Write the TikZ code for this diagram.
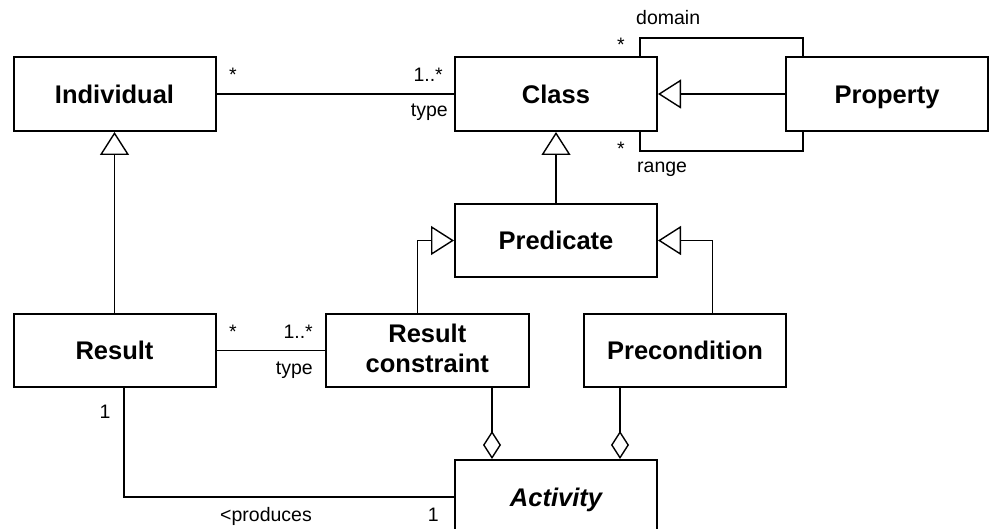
\documentclass[tikz,border=0pt]{standalone}
\usepackage{fontspec}
\setmainfont{Liberation Sans}
\usetikzlibrary{arrows.meta,calc}
\begin{document}
\begin{tikzpicture}[x=1pt,y=-1pt,
  box/.style={draw, line width=2pt, minimum width=202pt, minimum height=74pt,
    inner sep=0pt, align=center, font=\fontsize{25.5}{30}\selectfont\bfseries},
  cls/.style={box, text height=18.3pt, text depth=0pt},
  lbl/.style={inner sep=0pt, font=\fontsize{19.5}{22}\selectfont},
  link/.style={line width=1.4pt},
  gen/.style={link, -{Triangle[open, length=23pt, width=29pt]}},
  agg/.style={link, -{Diamond[open, length=28pt, width=18pt]}},
]
\useasboundingbox (0,0) rectangle (990,529);
\clip (0,0) rectangle (990,529);

% classes
\node[cls] (ind)  at (114.5,94)  {Individual};
\node[cls] (cls)  at (556,94)    {Class};
\node[cls] (prop) at (887,94)    {Property};
\node[cls, minimum height=73pt] (pred) at (556,240.5) {Predicate};
\node[cls, minimum height=73pt] (res)  at (114.5,350.5) {Result};
\node[box, minimum height=73pt, minimum width=203pt] (rc) at (427.3,350.5) {};
\node[font=\fontsize{25.5}{30}\selectfont\bfseries, align=center, inner sep=0pt]
  (rctext) at ([yshift=2pt]rc.center) {Result\\constraint};
\node[cls, minimum height=73pt] (pre)  at (685,350.5) {Precondition};
\node[cls, font=\fontsize{25.5}{30}\selectfont\bfseries\itshape] (act) at (556,497) {Activity};

% associations
\draw[link] (ind) -- (cls);
\draw[link] ([xshift=-18pt]cls.north east) -- ++(0,-18) -| ([xshift=18pt]prop.north west);
\draw[link] ([xshift=-18pt]cls.south east) -- ++(0,19) -| ([xshift=18pt]prop.south west);
\draw[link] (res) -- (rc);
\draw[link] ([xshift=9.5pt]res.south) |- (act.west);

% generalizations
\draw[gen] (prop) -- (cls);
\draw[gen] (res) -- (ind);
\draw[gen] (pred) -- (cls);
\draw[gen] ([xshift=-9.6pt]rc.north) |- (pred.west);
\draw[gen] ([xshift=27.6pt]pre.north) |- (pred.east);

% aggregations into Activity
\coordinate (aggL) at ([xshift=-64pt]act.north);
\coordinate (aggR) at ([xshift=64pt]act.north);
\draw[agg] (rc.south -| aggL) -- (aggL);
\draw[agg] (pre.south -| aggR) -- (aggR);

% role names and multiplicities
\node[lbl, anchor=base]      (m1) at (233,82)  {*};
\node[lbl, anchor=base east] (m2) at (443,82)  {1..*};
\node[lbl, anchor=base east] (r1) at (448,117) {type};
\node[lbl, anchor=base]      (m3) at (621,52)  {*};
\node[lbl, anchor=base west] (r2) at (636,25)  {domain};
\node[lbl, anchor=base]      (m4) at (621,156) {*};
\node[lbl, anchor=base west] (r3) at (637,173) {range};
\node[lbl, anchor=base]      (m5) at (233,338) {*};
\node[lbl, anchor=base east] (m6) at (313,338) {1..*};
\node[lbl, anchor=base east] (r4) at (313,374) {type};
\node[lbl, anchor=base]      (m7) at (105,418) {1};
\node[lbl, anchor=base east] (r5) at (312,521) {<produces};
\node[lbl, anchor=base east] (m8) at (439,521) {1};
\end{tikzpicture}
\end{document}
